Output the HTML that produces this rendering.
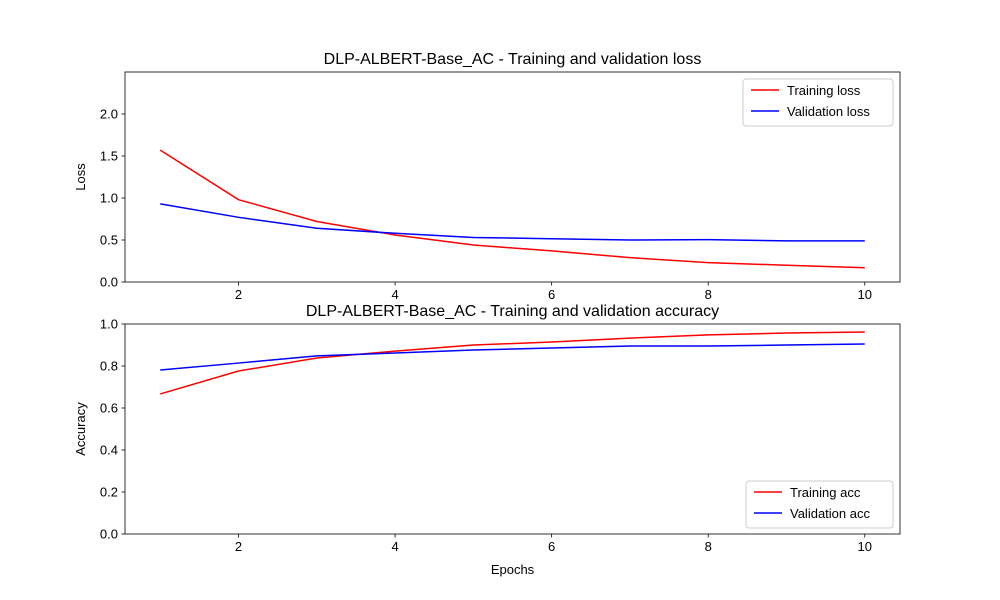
<!DOCTYPE html>
<html><head><meta charset="utf-8"><style>
body{margin:0;background:#fff;}
svg{display:block;font-family:"Liberation Sans","DejaVu Sans",sans-serif;}
</style></head><body>
<svg id="chart" width="1000" height="600"></svg>
<script>
const epochs=[1,2,3,4,5,6,7,8,9,10];
const trainLoss=[1.57,0.98,0.72,0.56,0.44,0.37,0.29,0.23,0.20,0.17];
const valLoss=[0.93,0.77,0.64,0.58,0.53,0.515,0.50,0.505,0.49,0.49];
const trainAcc=[0.667,0.776,0.838,0.871,0.90,0.914,0.933,0.948,0.957,0.962];
const valAcc=[0.781,0.814,0.848,0.862,0.876,0.886,0.895,0.895,0.90,0.905];
const xTicks=[2,4,6,8,10];
const lossTicks=[0,0.5,1.0,1.5,2.0];
const accTicks=[0,0.2,0.4,0.6,0.8,1.0];
const NS="http://www.w3.org/2000/svg";
const svg=document.getElementById('chart');
function mk(tag,attrs,parent){const e=document.createElementNS(NS,tag);for(const k in attrs)e.setAttribute(k,attrs[k]);(parent||svg).appendChild(e);return e;}
const L=125,R=900,x0=0.55,x1=10.45;
const xs=v=>L+(v-x0)/(x1-x0)*(R-L);
function panel(name,top,bottom,ymin,ymax,yTicks,fmt,series,title,ylabel,legendPos,showXLabel){
  const g=mk('g',{});
  
  
  const ys=v=>bottom-(v-ymin)/(ymax-ymin)*(bottom-top);
  series.forEach(s=>{
    const p=mk('polyline',{points:epochs.map((e,i)=>xs(e)+','+ys(s.data[i])).join(' '),fill:'none',stroke:s.color,'stroke-width':1.5},g);
    
    
  });
  mk('rect',{x:L,y:top,width:R-L,height:bottom-top,fill:'none',stroke:'#000','stroke-width':0.8},g);
  xTicks.forEach(t=>{const x=xs(t);mk('line',{x1:x,x2:x,y1:bottom,y2:bottom+3.5,stroke:'#000','stroke-width':0.8},g);
    const tx=mk('text',{x:x,y:bottom+17,'font-size':13,'text-anchor':'middle'},g);tx.textContent=t;});
  yTicks.forEach(t=>{const y=ys(t);mk('line',{x1:L-3.5,x2:L,y1:y,y2:y,stroke:'#000','stroke-width':0.8},g);
    const tx=mk('text',{x:L-7,y:y+4.5,'font-size':13,'text-anchor':'end'},g);tx.textContent=t.toFixed(1);});
  const tt=mk('text',{x:(L+R)/2,y:top-8,'font-size':16,'text-anchor':'middle'},g);tt.textContent=title;
  
  const yl=mk('text',{x:0,y:0,'font-size':13,'text-anchor':'middle',transform:`translate(85,${(top+bottom)/2}) rotate(-90)`},g);yl.textContent=ylabel;
  
  if(showXLabel){const xl=mk('text',{x:(L+R)/2,y:bottom+40,'font-size':13,'text-anchor':'middle'},g);xl.textContent='Epochs';
    }
  const lg=mk('g',{},g);
  
  
  mk('rect',{x:legendPos.x,y:legendPos.y,width:legendPos.w,height:47,rx:3,fill:'#fff',stroke:'#ccc'},lg);
  series.forEach((s,i)=>{const y=legendPos.y+11+i*21;
    mk('line',{x1:legendPos.x+8,x2:legendPos.x+36,y1:y,y2:y,stroke:s.color,'stroke-width':1.5},lg);
    const t=mk('text',{x:legendPos.x+44,y:y+5,'font-size':13},lg);t.textContent=s.label;});
}
panel('loss-panel',72,282,0,2.5,lossTicks,null,
  [{id:'training-loss-line',data:trainLoss,color:'#ff0000',label:'Training loss'},{id:'validation-loss-line',data:valLoss,color:'#0000ff',label:'Validation loss'}],
  'DLP-ALBERT-Base_AC - Training and validation loss','Loss',{x:743,y:79,w:150},false);
panel('accuracy-panel',324,534,0,1.0,accTicks,null,
  [{id:'training-acc-line',data:trainAcc,color:'#ff0000',label:'Training acc'},{id:'validation-acc-line',data:valAcc,color:'#0000ff',label:'Validation acc'}],
  'DLP-ALBERT-Base_AC - Training and validation accuracy','Accuracy',{x:746,y:481,w:147},true);
</script>
</body></html>
